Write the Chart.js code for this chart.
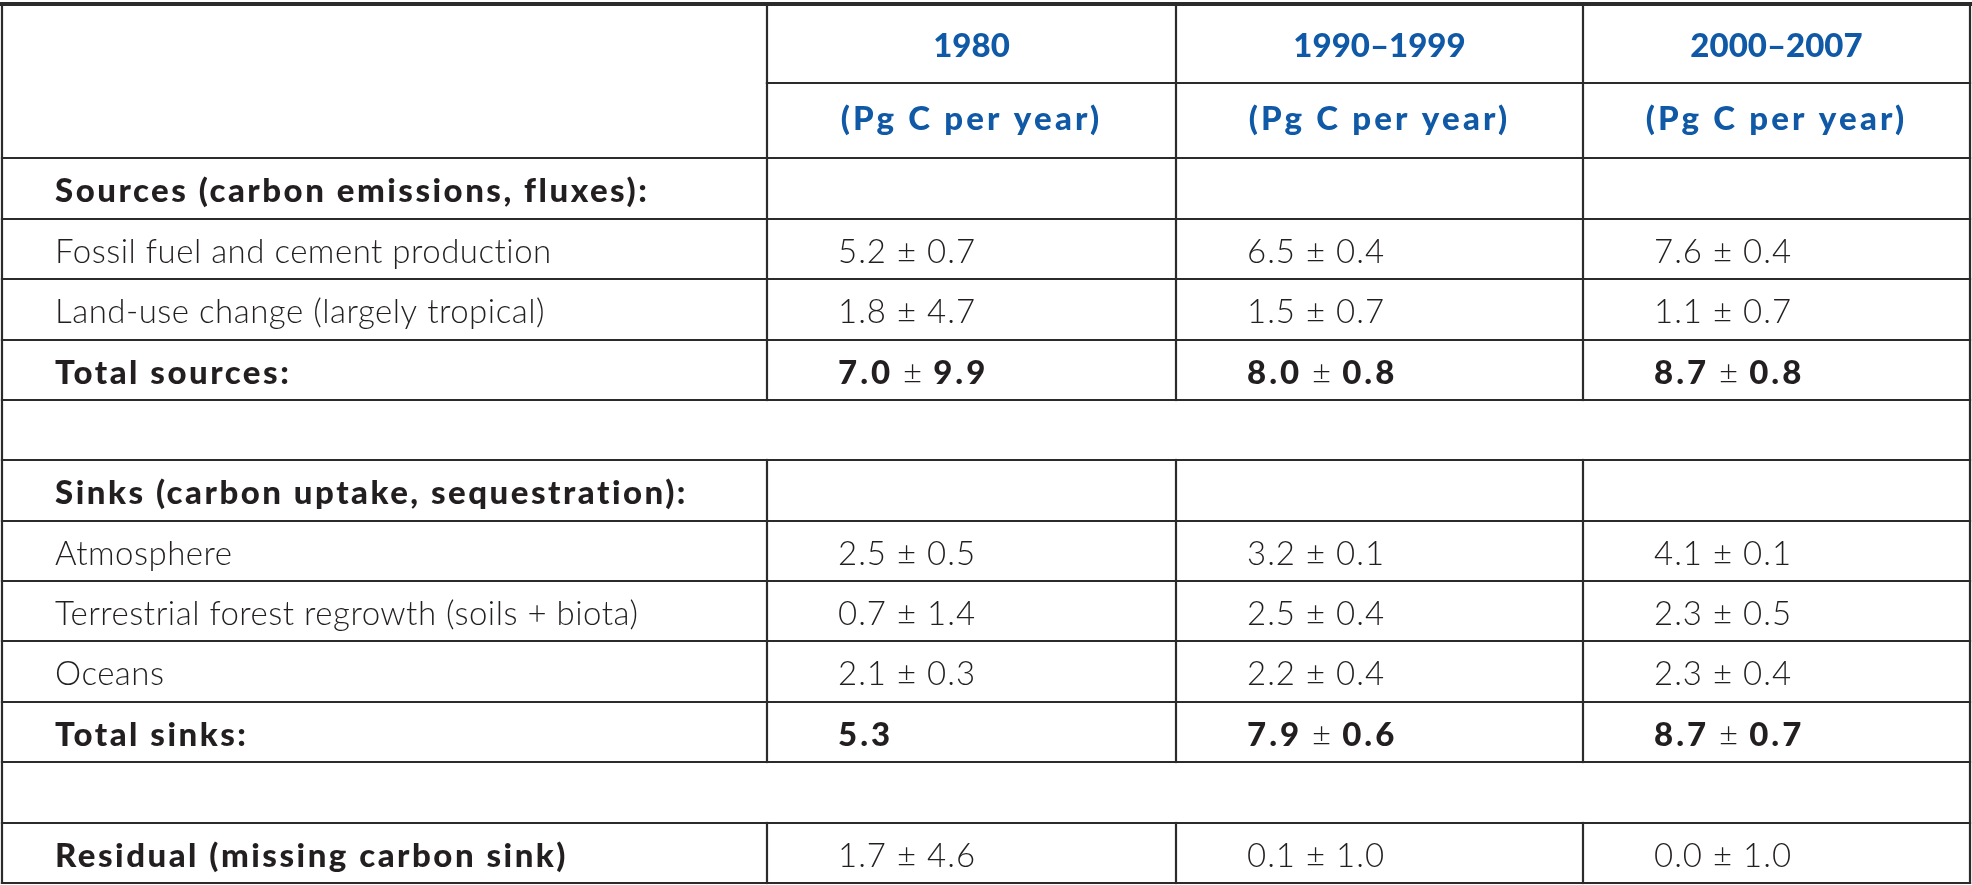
<!DOCTYPE html>
<html>
<head>
<meta charset="utf-8">
<script src="https://cdn.jsdelivr.net/npm/chart.js@4/dist/chart.umd.min.js"></script>
<style>
  html, body { margin: 0; padding: 0; background: #fff; }
  #tableChart { display: block; }
</style>
</head>
<body>
<canvas id="tableChart" width="1972" height="885"></canvas>
<script>
// column headers
const periods = ['1980', '1990–1999', '2000–2007'];
const unitText = '(Pg C per year)';

// sources
const sourcesHeading = 'Sources (carbon emissions, fluxes):';
const fossilLabel = 'Fossil fuel and cement production';
const fossilMean = [5.2, 6.5, 7.6];
const fossilErr = [0.7, 0.4, 0.4];
const landUseLabel = 'Land-use change (largely tropical)';
const landUseMean = [1.8, 1.5, 1.1];
const landUseErr = [4.7, 0.7, 0.7];
const totalSourcesLabel = 'Total sources:';
const totalSourcesMean = [7.0, 8.0, 8.7];
const totalSourcesErr = [9.9, 0.8, 0.8];

// sinks
const sinksHeading = 'Sinks (carbon uptake, sequestration):';
const atmosphereLabel = 'Atmosphere';
const atmosphereMean = [2.5, 3.2, 4.1];
const atmosphereErr = [0.5, 0.1, 0.1];
const forestLabel = 'Terrestrial forest regrowth (soils + biota)';
const forestMean = [0.7, 2.5, 2.3];
const forestErr = [1.4, 0.4, 0.5];
const oceanLabel = 'Oceans';
const oceanMean = [2.1, 2.2, 2.3];
const oceanErr = [0.3, 0.4, 0.4];
const totalSinksLabel = 'Total sinks:';
const totalSinksMean = [5.3, 7.9, 8.7];
const totalSinksErr = [null, 0.6, 0.7];

// residual
const residualLabel = 'Residual (missing carbon sink)';
const residualMean = [1.7, 0.1, 0.0];
const residualErr = [4.6, 1.0, 1.0];

// layout (relative widths / heights of columns and rows)
const colWeights = [765, 409, 407, 387];
const rowHeights = [79, 75, 61, 60, 61, 60, 60, 61, 60, 60, 61, 60, 61, 60];

const rows = [
  { type: 'head', texts: periods, style: 'period', shift: 2 },
  { type: 'head', texts: periods.map(() => unitText), style: 'unit', shift: -2 },
  { type: 'section', label: sourcesHeading },
  { type: 'item', label: fossilLabel, mean: fossilMean, err: fossilErr },
  { type: 'item', label: landUseLabel, mean: landUseMean, err: landUseErr },
  { type: 'total', label: totalSourcesLabel, mean: totalSourcesMean, err: totalSourcesErr },
  { type: 'gap' },
  { type: 'section', label: sinksHeading },
  { type: 'item', label: atmosphereLabel, mean: atmosphereMean, err: atmosphereErr },
  { type: 'item', label: forestLabel, mean: forestMean, err: forestErr },
  { type: 'item', label: oceanLabel, mean: oceanMean, err: oceanErr },
  { type: 'total', label: totalSinksLabel, mean: totalSinksMean, err: totalSinksErr },
  { type: 'gap' },
  { type: 'total', label: residualLabel, mean: residualMean, err: residualErr, lightValues: true }
];

const cumulative = arr => arr.reduce((acc, v) => { acc.push(acc[acc.length - 1] + v); return acc; }, [0]);
const colEdges = cumulative(colWeights);
const rowEdges = cumulative(rowHeights);

const INK = '#231f20';
const BLUE = '#1059a6';
const LINE = '#2b2b2b';
const FAMILY = 'Lato, "Open Sans", sans-serif';
const SIZE = 33;
const styles = {
  label:     { font: `300 ${SIZE}px ${FAMILY}`, spacing: '0.5px' },
  boldLabel: { font: `900 ${SIZE}px ${FAMILY}`, spacing: '2.5px' },
  value:     { font: `300 ${SIZE}px ${FAMILY}`, spacing: '1px' },
  boldValue: { font: `900 ${SIZE}px ${FAMILY}`, spacing: '3px' },
  period:    { font: `900 33px ${FAMILY}`, spacing: '0px' },
  unit:      { font: `900 33px ${FAMILY}`, spacing: '3.2px' }
};

const tablePlugin = {
  id: 'tablePlugin',
  afterDraw(chart) {
    const { ctx, scales: { x, y } } = chart;
    const px = v => x.getPixelForValue(v);
    const py = v => y.getPixelForValue(v);
    const nCols = colWeights.length;

    ctx.save();
    ctx.strokeStyle = LINE;
    ctx.lineCap = 'square';

    const hLine = (edge, c0, c1, w) => {
      ctx.lineWidth = w;
      ctx.beginPath();
      ctx.moveTo(px(colEdges[c0]), py(rowEdges[edge]));
      ctx.lineTo(px(colEdges[c1]), py(rowEdges[edge]));
      ctx.stroke();
    };
    const vLine = (c, r0, r1, w) => {
      ctx.lineWidth = w;
      ctx.beginPath();
      ctx.moveTo(px(colEdges[c]), py(rowEdges[r0]));
      ctx.lineTo(px(colEdges[c]), py(rowEdges[r1]));
      ctx.stroke();
    };

    // horizontal rules
    for (let e = 0; e < rowEdges.length; e++) {
      if (e === 0) hLine(e, 0, nCols, 4);
      else if (e === 1) hLine(e, 1, nCols, 2.2);
      else hLine(e, 0, nCols, 2.2);
    }
    // outer verticals
    vLine(0, 0, rows.length, 2.2);
    vLine(nCols, 0, rows.length, 2.2);
    // inner verticals, skipped in gap rows
    rows.forEach((row, r) => {
      if (row.type === 'gap') return;
      for (let c = 1; c < nCols; c++) vLine(c, r, r + 1, 2.2);
    });

    // text
    const capShift = SIZE * 0.36;
    const labelPad = x.getPixelForValue(0) + 53;
    const valuePad = 71;
    ctx.textBaseline = 'alphabetic';

    const use = s => { ctx.font = styles[s].font; ctx.letterSpacing = styles[s].spacing; };
    const drawRuns = (runs, startX, baseY) => {
      let cx = startX;
      runs.forEach(([text, s]) => {
        use(s);
        ctx.fillText(text, cx, baseY);
        cx += ctx.measureText(text).width;
      });
    };

    rows.forEach((row, r) => {
      const mid = (py(rowEdges[r]) + py(rowEdges[r + 1])) / 2;
      const base = mid + capShift + (row.shift !== undefined ? row.shift : 2);
      ctx.fillStyle = INK;
      ctx.textAlign = 'left';

      if (row.type === 'head') {
        ctx.fillStyle = BLUE;
        use(row.style);
        row.texts.forEach((t, i) => {
          const w = ctx.measureText(t).width;
          const cx = (px(colEdges[i + 1]) + px(colEdges[i + 2])) / 2;
          ctx.fillText(t, cx - w / 2, base);
        });
        return;
      }
      if (row.type === 'gap') return;

      const bold = row.type !== 'item';
      use(bold ? 'boldLabel' : 'label');
      ctx.fillText(row.label, labelPad, base);

      if (!row.mean) return;
      row.mean.forEach((m, i) => {
        const startX = px(colEdges[i + 1]) + valuePad;
        const vs = bold && !row.lightValues ? 'boldValue' : 'value';
        const runs = [[m.toFixed(1), vs]];
        if (row.err[i] !== null) {
          runs.push([' ± ', 'value']);
          runs.push([row.err[i].toFixed(1), vs]);
        }
        drawRuns(runs, startX, base);
      });
    });
    ctx.restore();
  }
};

const tableChart = new Chart(document.getElementById('tableChart').getContext('2d'), {
  type: 'scatter',
  data: { datasets: [{ data: [] }] },
  options: {
    responsive: false,
    devicePixelRatio: 1,
    animation: false,
    layout: { padding: { left: 2, right: 2, top: 4, bottom: 2 } },
    scales: {
      x: { type: 'linear', min: 0, max: colEdges[colEdges.length - 1], display: false },
      y: { type: 'linear', min: 0, max: rowEdges[rowEdges.length - 1], reverse: true, display: false }
    },
    plugins: { legend: { display: false }, tooltip: { enabled: false } }
  },
  plugins: [tablePlugin]
});
</script>
</body>
</html>
